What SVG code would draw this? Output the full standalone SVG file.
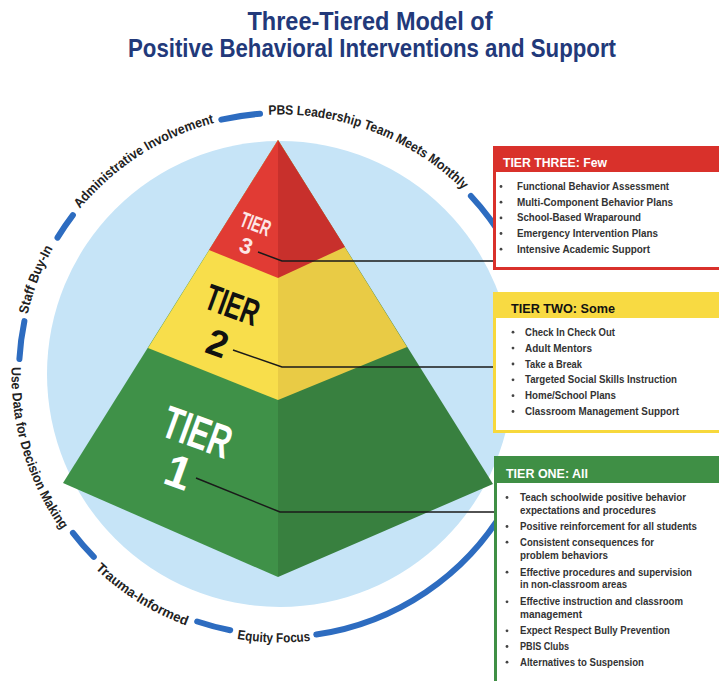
<svg xmlns="http://www.w3.org/2000/svg" xmlns:xlink="http://www.w3.org/1999/xlink" width="719" height="681" viewBox="0 0 719 681">
<defs>
<style>
.title{font-family:"Liberation Sans Narrow","Liberation Sans",Arial,sans-serif;font-weight:bold;font-size:25px;fill:#22397a;text-anchor:middle}
.ring{font-family:"Liberation Sans Narrow","Liberation Sans",Arial,sans-serif;font-weight:bold;font-size:13.5px;fill:#222}
.dash{fill:none;stroke:#2d6cc0;stroke-width:6;stroke-linecap:round}
.conn{fill:none;stroke:#1a1a1a;stroke-width:1.5}
.hdr{font-family:"Liberation Sans Narrow","Liberation Sans",Arial,sans-serif;font-weight:bold;font-size:13px}
.item{font-family:"Liberation Sans Narrow","Liberation Sans",Arial,sans-serif;font-weight:bold;font-size:10.5px;fill:#333}
.bul{fill:#444}
.tier{font-family:"Liberation Sans Narrow","Liberation Sans",Arial,sans-serif;text-anchor:middle;font-weight:bold}
</style>
<path id="topPath" d="M20.5,374 A259.5,259.5 0 1 1 539.5,374 A259.5,259.5 0 1 1 20.5,374"/>
<path id="botPath" d="M27.69,282.17 A268.5,268.5 0 0 0 532.31,465.83 A268.5,268.5 0 0 0 27.69,282.17"/>
</defs>
<rect width="719" height="681" fill="#ffffff"/>

<g id="title">
<text class="title" x="370" y="30" textLength="245" lengthAdjust="spacingAndGlyphs">Three-Tiered Model of</text>
<text class="title" x="372" y="57" textLength="488" lengthAdjust="spacingAndGlyphs">Positive Behavioral Interventions and Support</text>
</g>

<g id="backdrop">
<circle cx="280" cy="374" r="233" fill="#c6e4f7"/>
</g>

<g id="ring">
<path class="dash" d="M19.4,359.0 A261,261 0 0 1 24.4,321.1"/>
<path class="dash" d="M57.5,237.6 A261,261 0 0 1 72.9,215.1"/>
<path class="dash" d="M221.3,119.7 A261,261 0 0 1 260.0,113.8"/>
<path class="dash" d="M470.9,196.0 A261,261 0 0 1 506.0,243.5"/>
<path class="dash" d="M72.9,532.9 A261,261 0 0 0 93.8,556.9"/>
<path class="dash" d="M197.2,621.5 A261,261 0 0 0 230.2,630.2"/>
<path class="dash" d="M316.3,634.5 A263,263 0 0 0 506.0,506.5"/>
<text class="ring"><textPath xlink:href="#topPath" href="#topPath" startOffset="60.2" textLength="71" lengthAdjust="spacingAndGlyphs">Staff Buy-In</textPath></text>
<text class="ring"><textPath xlink:href="#topPath" href="#topPath" startOffset="178.9" textLength="162" lengthAdjust="spacingAndGlyphs">Administrative Involvement</textPath></text>
<text class="ring"><textPath xlink:href="#topPath" href="#topPath" startOffset="395.8" textLength="214.7" lengthAdjust="spacingAndGlyphs">PBS Leadership Team Meets Monthly</textPath></text>
<text class="ring"><textPath xlink:href="#botPath" href="#botPath" startOffset="86.7" textLength="173.4" lengthAdjust="spacingAndGlyphs">Use Data for Decision Making</textPath></text>
<text class="ring"><textPath xlink:href="#botPath" href="#botPath" startOffset="311.6" textLength="107.8" lengthAdjust="spacingAndGlyphs">Trauma-Informed</textPath></text>
<text class="ring"><textPath xlink:href="#botPath" href="#botPath" startOffset="472.3" textLength="73.6" lengthAdjust="spacingAndGlyphs">Equity Focus</textPath></text>
</g>

<g id="tier1">
<polygon points="278,140 63,483 278,577" fill="#3f9148"/>
<polygon points="278,140 493,484 278,577" fill="#38803f"/>
</g>
<g id="tier2">
<polygon points="278,140 148,348 278,400" fill="#f8de4b"/>
<polygon points="278,140 407,347 278,400" fill="#e9cb45"/>
</g>
<g id="tier3">
<polygon points="278,140 209,250 278,278" fill="#e13b34"/>
<polygon points="278,140 345,247 278,278" fill="#c8302c"/>
</g>

<g id="tier-labels">
<text class="tier" transform="translate(253,231) rotate(21)" font-size="22" fill="#fde6e6"><tspan x="0" y="0" textLength="31" lengthAdjust="spacingAndGlyphs">TIER</tspan><tspan x="-1" y="24">3</tspan></text>
<text class="tier" transform="translate(228,317) rotate(20)" font-size="37" fill="#111"><tspan x="0" y="0" textLength="55" lengthAdjust="spacingAndGlyphs">TIER</tspan><tspan x="-1" y="41">2</tspan></text>
<text class="tier" transform="translate(192,447) rotate(20)" font-size="46" fill="#ffffff"><tspan x="0" y="0" textLength="70" lengthAdjust="spacingAndGlyphs">TIER</tspan><tspan x="-4" y="44">1</tspan></text>
</g>

<g id="connectors">
<polyline class="conn" points="258,252 282,261 494,261"/>
<polyline class="conn" points="233,350 282,367 494,367"/>
<polyline class="conn" points="196,478 280,512 495,512"/>
</g>

<g id="box-tier-three">
<rect x="494.5" y="147.5" width="240" height="121" fill="#ffffff" stroke="#d9312b" stroke-width="3"/>
<rect x="493" y="146" width="240" height="26" fill="#d9312b"/>
<text class="hdr" x="503" y="167" fill="#ffffff" textLength="104" lengthAdjust="spacingAndGlyphs">TIER THREE: Few</text>
<circle class="bul" cx="501" cy="186.5" r="1.4"/><text class="item" x="517" y="190" textLength="152" lengthAdjust="spacingAndGlyphs">Functional Behavior Assessment</text>
<circle class="bul" cx="501" cy="202.2" r="1.4"/><text class="item" x="517" y="205.7" textLength="156" lengthAdjust="spacingAndGlyphs">Multi-Component Behavior Plans</text>
<circle class="bul" cx="501" cy="217.9" r="1.4"/><text class="item" x="517" y="221.4" textLength="124" lengthAdjust="spacingAndGlyphs">School-Based Wraparound</text>
<circle class="bul" cx="501" cy="233.5" r="1.4"/><text class="item" x="517" y="237" textLength="141" lengthAdjust="spacingAndGlyphs">Emergency Intervention Plans</text>
<circle class="bul" cx="501" cy="249.2" r="1.4"/><text class="item" x="517" y="252.7" textLength="133" lengthAdjust="spacingAndGlyphs">Intensive Academic Support</text>
</g>

<g id="box-tier-two">
<rect x="494.5" y="293.5" width="240" height="138" fill="#ffffff" stroke="#f7d83c" stroke-width="3"/>
<rect x="493" y="292" width="240" height="26" fill="#f8da42"/>
<text class="hdr" x="511" y="313" fill="#111111" textLength="104" lengthAdjust="spacingAndGlyphs">TIER TWO: Some</text>
<circle class="bul" cx="513" cy="332.2" r="1.4"/><text class="item" x="525" y="335.7" textLength="90" lengthAdjust="spacingAndGlyphs">Check In Check Out</text>
<circle class="bul" cx="513" cy="348.1" r="1.4"/><text class="item" x="525" y="351.6" textLength="67" lengthAdjust="spacingAndGlyphs">Adult Mentors</text>
<circle class="bul" cx="513" cy="364" r="1.4"/><text class="item" x="525" y="367.5" textLength="57" lengthAdjust="spacingAndGlyphs">Take a Break</text>
<circle class="bul" cx="513" cy="379.8" r="1.4"/><text class="item" x="525" y="383.3" textLength="152" lengthAdjust="spacingAndGlyphs">Targeted Social Skills Instruction</text>
<circle class="bul" cx="513" cy="395.7" r="1.4"/><text class="item" x="525" y="399.2" textLength="91" lengthAdjust="spacingAndGlyphs">Home/School Plans</text>
<circle class="bul" cx="513" cy="411.5" r="1.4"/><text class="item" x="525" y="415" textLength="154" lengthAdjust="spacingAndGlyphs">Classroom Management Support</text>
</g>

<g id="box-tier-one">
<rect x="495.5" y="457.5" width="240" height="240" fill="#ffffff" stroke="#3f8f45" stroke-width="3"/>
<rect x="494" y="456" width="240" height="27" fill="#3f8f45"/>
<text class="hdr" x="506" y="478.3" fill="#ffffff" textLength="82" lengthAdjust="spacingAndGlyphs">TIER ONE: All</text>
<circle class="bul" cx="507" cy="497.5" r="1.4"/><text class="item" x="520" y="501" textLength="166" lengthAdjust="spacingAndGlyphs">Teach schoolwide positive behavior</text>
<text class="item" x="520" y="513.7" textLength="136" lengthAdjust="spacingAndGlyphs">expectations and procedures</text>
<circle class="bul" cx="507" cy="526.5" r="1.4"/><text class="item" x="520" y="530" textLength="177" lengthAdjust="spacingAndGlyphs">Positive reinforcement for all students</text>
<circle class="bul" cx="507" cy="542.2" r="1.4"/><text class="item" x="520" y="545.7" textLength="134" lengthAdjust="spacingAndGlyphs">Consistent consequences for</text>
<text class="item" x="520" y="559" textLength="88" lengthAdjust="spacingAndGlyphs">problem behaviors</text>
<circle class="bul" cx="507" cy="572.2" r="1.4"/><text class="item" x="520" y="575.7" textLength="172" lengthAdjust="spacingAndGlyphs">Effective procedures and supervision</text>
<text class="item" x="520" y="588.3" textLength="107" lengthAdjust="spacingAndGlyphs">in non-classroom areas</text>
<circle class="bul" cx="507" cy="601.8" r="1.4"/><text class="item" x="520" y="605.3" textLength="163" lengthAdjust="spacingAndGlyphs">Effective instruction and classroom</text>
<text class="item" x="520" y="617.7" textLength="62" lengthAdjust="spacingAndGlyphs">management</text>
<circle class="bul" cx="507" cy="630.8" r="1.4"/><text class="item" x="520" y="634.3" textLength="150" lengthAdjust="spacingAndGlyphs">Expect Respect Bully Prevention</text>
<circle class="bul" cx="507" cy="646.5" r="1.4"/><text class="item" x="520" y="650" textLength="49" lengthAdjust="spacingAndGlyphs">PBIS Clubs</text>
<circle class="bul" cx="507" cy="662.2" r="1.4"/><text class="item" x="520" y="665.7" textLength="124" lengthAdjust="spacingAndGlyphs">Alternatives to Suspension</text>
</g>
</svg>
